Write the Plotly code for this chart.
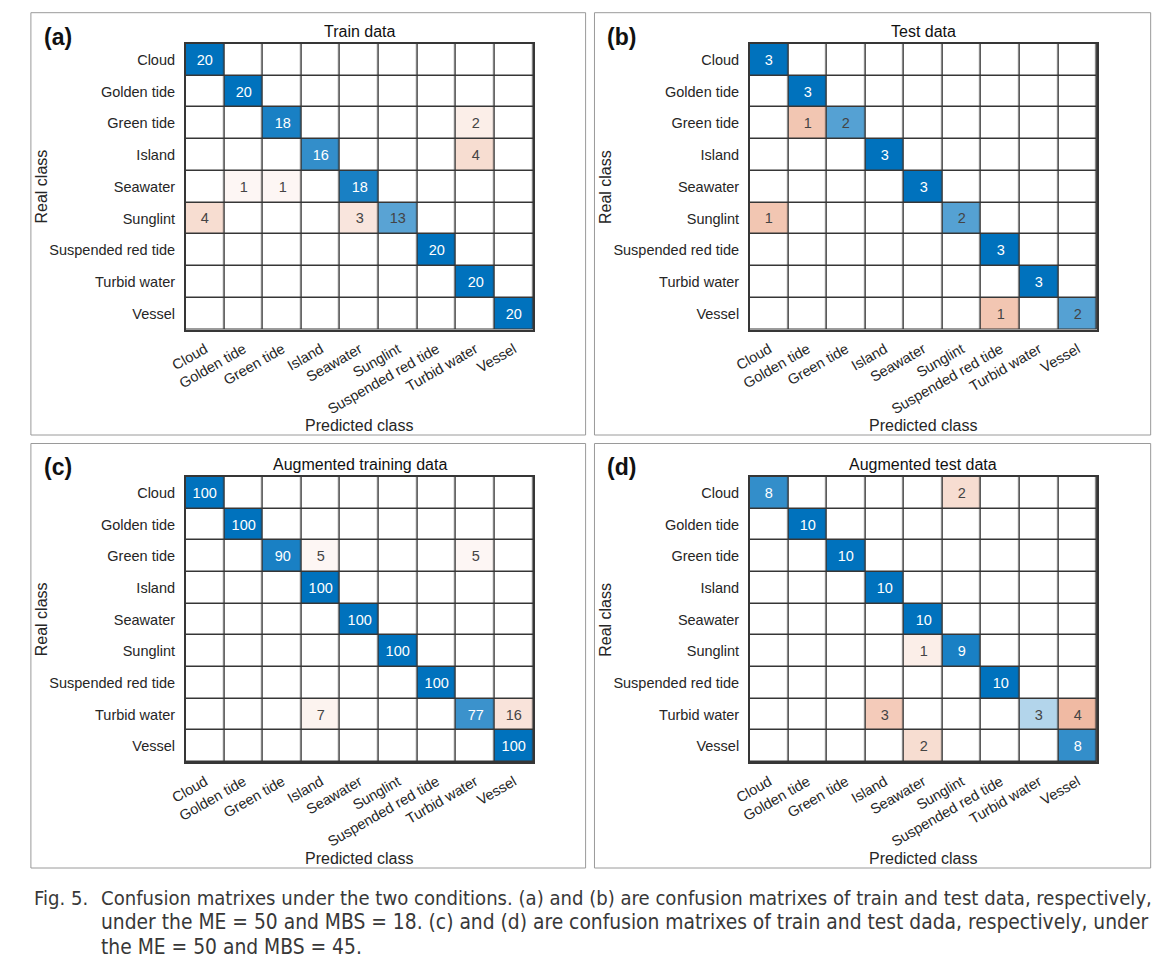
import plotly.graph_objects as go

classes = ["Cloud", "Golden tide", "Green tide", "Island", "Seawater",
           "Sunglint", "Suspended red tide", "Turbid water", "Vessel"]

# rows = real class, columns = predicted class
train_data = [
    [20, 0, 0, 0, 0, 0, 0, 0, 0],
    [0, 20, 0, 0, 0, 0, 0, 0, 0],
    [0, 0, 18, 0, 0, 0, 0, 2, 0],
    [0, 0, 0, 16, 0, 0, 0, 4, 0],
    [0, 1, 1, 0, 18, 0, 0, 0, 0],
    [4, 0, 0, 0, 3, 13, 0, 0, 0],
    [0, 0, 0, 0, 0, 0, 20, 0, 0],
    [0, 0, 0, 0, 0, 0, 0, 20, 0],
    [0, 0, 0, 0, 0, 0, 0, 0, 20],
]
test_data = [
    [3, 0, 0, 0, 0, 0, 0, 0, 0],
    [0, 3, 0, 0, 0, 0, 0, 0, 0],
    [0, 1, 2, 0, 0, 0, 0, 0, 0],
    [0, 0, 0, 3, 0, 0, 0, 0, 0],
    [0, 0, 0, 0, 3, 0, 0, 0, 0],
    [1, 0, 0, 0, 0, 2, 0, 0, 0],
    [0, 0, 0, 0, 0, 0, 3, 0, 0],
    [0, 0, 0, 0, 0, 0, 0, 3, 0],
    [0, 0, 0, 0, 0, 0, 1, 0, 2],
]
aug_train_data = [
    [100, 0, 0, 0, 0, 0, 0, 0, 0],
    [0, 100, 0, 0, 0, 0, 0, 0, 0],
    [0, 0, 90, 5, 0, 0, 0, 5, 0],
    [0, 0, 0, 100, 0, 0, 0, 0, 0],
    [0, 0, 0, 0, 100, 0, 0, 0, 0],
    [0, 0, 0, 0, 0, 100, 0, 0, 0],
    [0, 0, 0, 0, 0, 0, 100, 0, 0],
    [0, 0, 0, 7, 0, 0, 0, 77, 16],
    [0, 0, 0, 0, 0, 0, 0, 0, 100],
]
aug_test_data = [
    [8, 0, 0, 0, 0, 2, 0, 0, 0],
    [0, 10, 0, 0, 0, 0, 0, 0, 0],
    [0, 0, 10, 0, 0, 0, 0, 0, 0],
    [0, 0, 0, 10, 0, 0, 0, 0, 0],
    [0, 0, 0, 0, 10, 0, 0, 0, 0],
    [0, 0, 0, 0, 1, 9, 0, 0, 0],
    [0, 0, 0, 0, 0, 0, 10, 0, 0],
    [0, 0, 0, 3, 0, 0, 0, 3, 4],
    [0, 0, 0, 0, 2, 0, 0, 0, 8],
]

panel_letters = ["(a)", "(b)", "(c)", "(d)"]
panel_titles = ["Train data", "Test data", "Augmented training data", "Augmented test data"]
panel_data = [train_data, test_data, aug_train_data, aug_test_data]

caption_label = "Fig. 5."
caption_lines = [
    "Confusion matrixes under the two conditions. (a) and (b) are confusion matrixes of train and test data, respectively,",
    "under the ME = 50 and MBS = 18. (c) and (d) are confusion matrixes of train and test dada, respectively, under",
    "the ME = 50 and MBS = 45.",
]

PAGE_W, PAGE_H = 1170, 973
OFF = 8  # default page body margin
W, H = PAGE_W - 2 * OFF, PAGE_H - 2 * OFF
FONT = "Liberation Sans, Arial, Helvetica, sans-serif"
BLUE = "rgb(0,114,189)"
ORANGE = "rgb(217,83,25)"
GRIDC = "#363636"
TICKC = "#262626"


def px(x):
    return (x - OFF) / W


def py(y):
    return 1 - (y - OFF) / H


# layout geometry in page pixels: frame box and grid box per panel
frames = [(15, 12.7, 577.5, 435), (586.5, 12.7, 1150.5, 435),
          (15, 443.5, 577.5, 868), (586.5, 443.5, 1150.5, 868)]
grids = [(172, 44, 524.5, 329.5), (744, 44, 1096, 329.5),
         (172, 477, 524.5, 762), (744, 477, 1096, 762)]

fig = go.Figure()
layout = {}
annotations = []
shapes = []

for k in range(4):
    n = k + 1
    suffix = "" if n == 1 else str(n)
    data = panel_data[k]
    M = max(max(r) for r in data)
    z = [[(v if i == j else -v) for j, v in enumerate(row)] for i, row in enumerate(data)]
    text = [[(str(v) if v else "") for v in row] for row in data]
    fig.add_trace(go.Heatmap(
        x=list(range(9)), y=list(range(9)), z=z, text=text,
        texttemplate="%{text}", textfont=dict(size=14.5, family=FONT),
        zmin=-M, zmax=M,
        colorscale=[[0, ORANGE], [0.5, "white"], [1, BLUE]],
        showscale=False, xgap=1.5, ygap=1.5, hoverinfo="skip",
        xaxis="x" + suffix, yaxis="y" + suffix,
    ))
    gx0, gy0, gx1, gy1 = grids[k]
    fx0, fy0, fx1, fy1 = frames[k]
    layout["xaxis" + suffix] = dict(
        domain=[px(gx0), px(gx1)], anchor="y" + suffix,
        range=[-0.5, 8.5], tickvals=list(range(9)), ticktext=classes,
        tickangle=-30, ticks="", showgrid=False, zeroline=False,
        showline=True, mirror=True, linecolor=GRIDC, linewidth=1.5,
        tickfont=dict(size=14.5, family=FONT, color=TICKC),
        ticklabelstandoff=4, fixedrange=True,
    )
    layout["yaxis" + suffix] = dict(
        domain=[py(gy1), py(gy0)], anchor="x" + suffix,
        range=[8.5, -0.5], tickvals=list(range(9)), ticktext=classes,
        ticks="", showgrid=False, zeroline=False,
        showline=True, mirror=True, linecolor=GRIDC, linewidth=1.5,
        tickfont=dict(size=14.5, family=FONT, color=TICKC),
        ticklabelstandoff=6, fixedrange=True,
    )
    shapes.append(dict(type="rect", xref="paper", yref="paper",
                       x0=px(fx0), x1=px(fx1), y0=py(fy1), y1=py(fy0),
                       line=dict(color="#9a9a9a", width=1), layer="below"))
    gcx = (gx0 + gx1) / 2
    # panel letter
    annotations.append(dict(text="<b>" + panel_letters[k] + "</b>", x=px(fx0 + 27), y=py(fy0 + 24),
                            xref="paper", yref="paper", xanchor="center", yanchor="middle",
                            showarrow=False, font=dict(size=23, family=FONT, color="#111111")))
    # title
    annotations.append(dict(text=panel_titles[k], x=px(gcx), y=py(gy0 - 12.5),
                            xref="paper", yref="paper", xanchor="center", yanchor="middle",
                            showarrow=False, font=dict(size=16, family=FONT, color="#111111")))
    # y title
    annotations.append(dict(text="Real class", x=px(fx0 + 11), y=py((gy0 + gy1) / 2),
                            xref="paper", yref="paper", xanchor="center", yanchor="middle",
                            textangle=-90, showarrow=False,
                            font=dict(size=16, family=FONT, color=TICKC)))
    # x title
    annotations.append(dict(text="Predicted class", x=px(gcx), y=py(gy1 + 96),
                            xref="paper", yref="paper", xanchor="center", yanchor="middle",
                            showarrow=False, font=dict(size=16, family=FONT, color=TICKC)))

CAPFONT = "DejaVu Sans Condensed, Liberation Sans Narrow, sans-serif"
CAPCOLOR = "#383838"
cap_sizes = [20.1, 20.8, 20.8]
annotations.append(dict(text=caption_label, x=px(16), y=py(898), xref="paper", yref="paper",
                        xanchor="left", yanchor="middle", showarrow=False,
                        font=dict(size=20.1, family=CAPFONT, color=CAPCOLOR)))
for i, line in enumerate(caption_lines):
    annotations.append(dict(text=line, x=px(84), y=py([898, 922, 947][i]),
                            xref="paper", yref="paper", xanchor="left", yanchor="middle",
                            showarrow=False,
                            font=dict(size=cap_sizes[i], family=CAPFONT, color=CAPCOLOR)))

fig.update_layout(
    width=W, height=H, margin=dict(l=0, r=0, t=0, b=0),
    paper_bgcolor="white", plot_bgcolor=GRIDC,
    annotations=annotations, shapes=shapes, showlegend=False,
    font=dict(family=FONT),
    **layout,
)

fig.write_html("out.html")
